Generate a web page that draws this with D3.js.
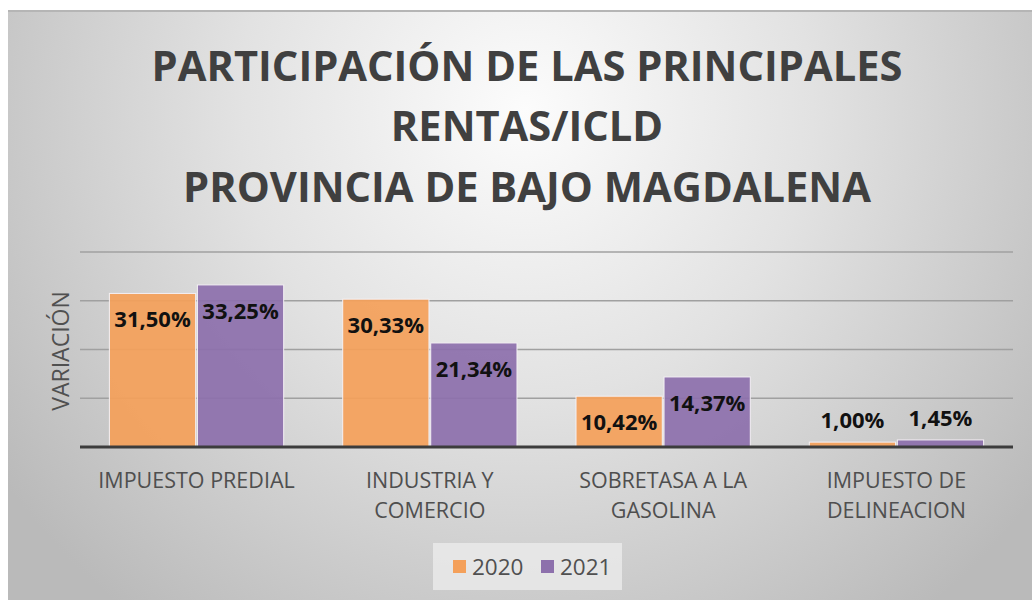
<!DOCTYPE html>
<html>
<head>
<meta charset="utf-8">
<script src="https://cdn.jsdelivr.net/npm/d3@7"></script>
<style>
  body { margin: 0; background: #fff; }
  svg { display: block; font-family: "Open Sans", sans-serif; }
</style>
</head>
<body>
<div id="chart"></div>
<script>
const titleLines = ["PARTICIPACIÓN DE LAS PRINCIPALES", "RENTAS/ICLD", "PROVINCIA DE BAJO MAGDALENA"];
const categories = [
    ["IMPUESTO PREDIAL"],
    ["INDUSTRIA Y", "COMERCIO"],
    ["SOBRETASA A LA", "GASOLINA"],
    ["IMPUESTO DE", "DELINEACION"]
];
const seriesNames = ["2020", "2021"];
const values2020 = [31.50, 30.33, 10.42, 1.00];
const values2021 = [33.25, 21.34, 14.37, 1.45];
const yTicks = [0, 10, 20, 30, 40];

const W = 1032, H = 600;
const margin = { top: 252, right: 19, bottom: 153, left: 80 };
const colors = { "2020": "#f4a05a", "2021": "#8d70ac" };

const svg = d3.select("#chart").append("svg")
    .attr("width", W)
    .attr("height", H);

// fondo con degradado
const defs = svg.append("defs");
const grad = defs.append("radialGradient")
    .attr("id", "bg")
    .attr("gradientUnits", "userSpaceOnUse")
    .attr("cx", 525).attr("cy", 110).attr("r", 640);
grad.append("stop").attr("offset", "0").attr("stop-color", "#fcfcfc");
grad.append("stop").attr("offset", "0.45").attr("stop-color", "#e2e2e2");
grad.append("stop").attr("offset", "1").attr("stop-color", "#bababa");

svg.append("rect")
    .attr("x", 8).attr("y", 10)
    .attr("width", W - 8).attr("height", H - 10)
    .attr("fill", "url(#bg)");
svg.append("line")
    .attr("x1", 8).attr("x2", W)
    .attr("y1", 11).attr("y2", 11)
    .attr("stroke", "#b5b5b5").attr("stroke-width", 2);

// titulo
const titleY = [81, 141, 202];
const title = svg.append("g");
titleLines.forEach((t, i) => {
    const txt = title.append("text")
        .attr("x", 527)
        .attr("y", titleY[i])
        .attr("text-anchor", "middle")
        .attr("fill", "#404040")
        .attr("font-weight", "bold")
        .attr("font-size", 40)
        .text(t);
    if (i === 0) {
        const w = txt.node().getComputedTextLength();
        title.attr("data-scale", 751 / w);
    }
});
const fs = 40 * +title.attr("data-scale");
title.selectAll("text").attr("font-size", fs);

const width = W - margin.left - margin.right;
const height = H - margin.top - margin.bottom;

const x0 = d3.scaleBand()
    .domain(d3.range(categories.length))
    .range([margin.left, margin.left + width])
    .paddingInner(0.253)
    .paddingOuter(0.126);

const x1 = d3.scaleBand()
    .domain(seriesNames)
    .range([0, x0.bandwidth()])
    .paddingInner(0.02);

const y = d3.scaleLinear()
    .domain([0, 40])
    .range([margin.top + height, margin.top]);

// lineas de cuadricula
svg.append("g")
    .selectAll("line")
    .data(yTicks.slice(1))
    .join("line")
    .attr("x1", margin.left)
    .attr("x2", margin.left + width)
    .attr("y1", d => y(d))
    .attr("y2", d => y(d))
    .attr("stroke", "#a0a0a0")
    .attr("stroke-width", 1.5);

const rows = categories.map((c, i) => ({ i, v: { "2020": values2020[i], "2021": values2021[i] } }));

const groups = svg.append("g")
    .selectAll("g")
    .data(rows)
    .join("g")
    .attr("transform", d => `translate(${x0(d.i)},0)`);

groups.selectAll("rect")
    .data(d => seriesNames.map(k => ({ key: k, value: d.v[k] })))
    .join("rect")
    .attr("x", d => x1(d.key))
    .attr("y", d => y(d.value))
    .attr("width", x1.bandwidth())
    .attr("height", d => y(0) - y(d.value))
    .attr("fill", d => colors[d.key])
    .attr("fill-opacity", 0.93)
    .attr("stroke", "#f4f0f4")
    .attr("stroke-width", 1);

// etiquetas de datos
groups.selectAll("text")
    .data(d => seriesNames.map(k => ({ key: k, value: d.v[k] })))
    .join("text")
    .attr("x", d => x1(d.key) + x1.bandwidth() / 2)
    .attr("y", d => y(0) - y(d.value) > 40 ? y(d.value) + 34 : y(d.value) - 14)
    .attr("text-anchor", "middle")
    .attr("font-weight", "bold")
    .attr("font-size", 22)
    .attr("fill", "#111")
    .text(d => d3.format(".2f")(d.value).replace(".", ",") + "%");

// linea base
svg.append("line")
    .attr("x1", margin.left)
    .attr("x2", margin.left + width)
    .attr("y1", y(0))
    .attr("y2", y(0))
    .attr("stroke", "#3c3c3c")
    .attr("stroke-width", 3);

// etiquetas de categorias
const catLabels = svg.append("g")
    .selectAll("text")
    .data(categories)
    .join("text")
    .attr("x", (d, i) => x0(i) + x0.bandwidth() / 2)
    .attr("y", 488)
    .attr("text-anchor", "middle")
    .attr("font-size", 21.5)
    .attr("fill", "#4f4f4f");
catLabels.selectAll("tspan")
    .data(d => d)
    .join("tspan")
    .attr("x", function () { return d3.select(this.parentNode).attr("x"); })
    .attr("dy", (d, i) => i === 0 ? 0 : 30)
    .text(d => d);

// titulo eje y
svg.append("text")
    .attr("transform", `translate(69,351) rotate(-90)`)
    .attr("text-anchor", "middle")
    .attr("font-size", 23)
    .attr("fill", "#505050")
    .text("VARIACIÓN");

// leyenda
const legend = svg.append("g");
legend.append("rect")
    .attr("x", 433).attr("y", 543)
    .attr("width", 189).attr("height", 47)
    .attr("fill", "#ebebeb")
    .attr("fill-opacity", 0.8);
const legendX = [453, 541];
seriesNames.forEach((s, i) => {
    legend.append("rect")
        .attr("x", legendX[i]).attr("y", 560)
        .attr("width", 13).attr("height", 13)
        .attr("fill", colors[s]);
    legend.append("text")
        .attr("x", legendX[i] + 19)
        .attr("y", 575)
        .attr("font-size", 22.5)
        .attr("fill", "#505050")
        .text(s);
});
</script>
</body>
</html>
